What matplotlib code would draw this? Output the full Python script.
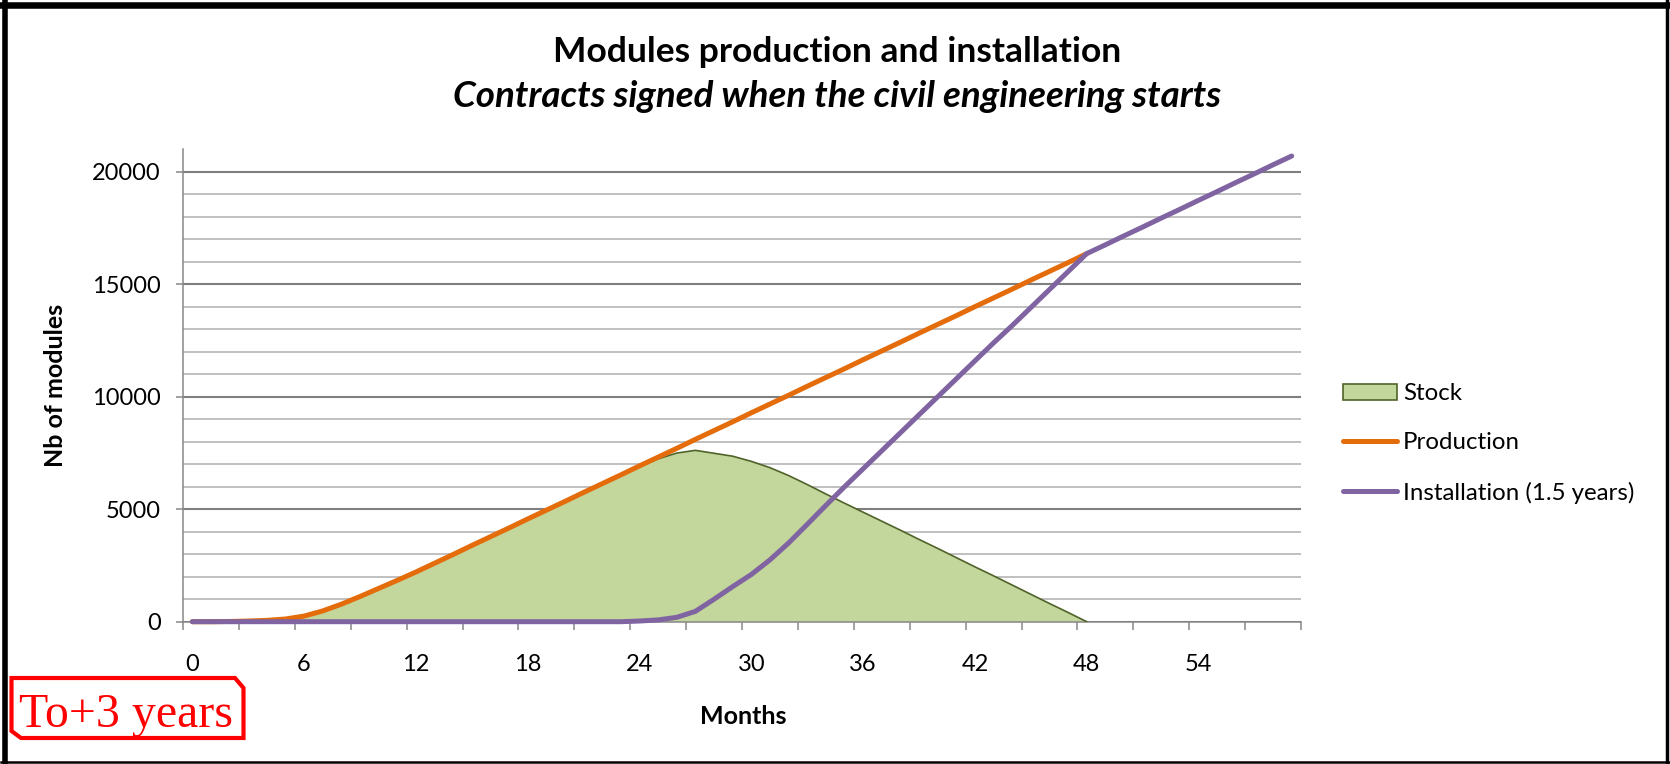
import numpy as np
import matplotlib
matplotlib.use("Agg")
import matplotlib.pyplot as plt
from matplotlib.lines import Line2D
from matplotlib.patches import Polygon, Patch

plt.rcParams['font.family'] = ['Lato', 'DejaVu Sans']

# data
months = list(range(60))
production = [0, 0, 10, 30, 60, 120, 250, 480, 780, 1120, 1480, 1840,
              2210, 2600, 2990, 3390, 3780, 4170, 4570, 4960, 5350, 5750,
              6140, 6530, 6930, 7320, 7710, 8110, 8500, 8890, 9290, 9680,
              10070, 10470, 10860, 11250, 11650, 12040, 12430, 12830, 13220,
              13610, 14010, 14400, 14790, 15190, 15580, 15970, 16370]
installation = [0] * 24 + [30, 80, 195, 460, 1000, 1560, 2100, 2750, 3500,
                           4330, 5170, 6000, 6800, 7600, 8400, 9200, 10000,
                           10800, 11600, 12400, 13170, 13970, 14770, 15570,
                           16370, 16760, 17160, 17550, 17950, 18340, 18740,
                           19130, 19530, 19920, 20320, 20710]
stock = [0, 0, 10, 30, 60, 120, 250, 480, 780, 1120, 1480, 1840,
         2210, 2600, 2990, 3390, 3780, 4170, 4570, 4960, 5350, 5750,
         6140, 6530, 6900, 7240, 7500, 7620, 7490, 7360, 7130, 6850,
         6500, 6100, 5680, 5270, 4870, 4470, 4070, 3660, 3260, 2850,
         2440, 2040, 1630, 1220, 810, 410, 0] + [0] * 11
xlabels = [0, 6, 12, 18, 24, 30, 36, 42, 48, 54]

W, H = 1670, 764
fig = plt.figure(figsize=(W / 100, H / 100), dpi=100)

def fx(px):
    return px / W

def fy(py):
    return 1 - py / H

ax = fig.add_axes([fx(183), fy(621.7), fx(1301) - fx(183), fy(149.5) - fy(621.7)])

c_fill = '#C3D69B'
c_edge = '#4F6228'
c_prod = '#E46C0A'
c_inst = '#8064A2'

m = np.array(months)
ax.fill_between(m, stock, 0, color=c_fill, lw=0, zorder=2, label='Stock')
ax.plot(m[:49], stock[:49], color=c_edge, lw=1.2, zorder=3)
ax.plot(m[:len(production)], production, color=c_prod, lw=3.6,
        solid_capstyle='round', zorder=4, clip_on=False, label='Production')
ax.plot(m, installation, color=c_inst, lw=3.6, solid_capstyle='round',
        zorder=5, clip_on=False, label='Installation (1.5 years)')

ax.set_xlim(-0.5, 59.5)
ax.set_ylim(0, 21000)

# y axis
ax.set_yticks(np.arange(0, 20001, 5000))
ax.set_yticks(np.arange(1000, 21001, 1000), minor=True)
ax.yaxis.grid(True, which='major', color='#7F7F7F', lw=1.5, zorder=0)
ax.yaxis.grid(True, which='minor', color='#BBBBBB', lw=1.3, zorder=0)
ax.tick_params(axis='y', which='major', length=5, width=1.1, color='#888888',
               labelsize=17, pad=11)
ax.tick_params(axis='y', which='minor', length=0)

# x axis: tick marks between categories, labels on categories
ax.set_xticks(np.arange(-0.5, 60, 3))
ax.set_xticklabels([])
ax.set_xticks(xlabels, minor=True)
ax.set_xticklabels([str(v) for v in xlabels], minor=True)
ax.tick_params(axis='x', which='major', length=6, width=1.1, color='#888888')
ax.tick_params(axis='x', which='minor', length=0, labelsize=17, pad=23)

for s in ['top', 'right']:
    ax.spines[s].set_visible(False)
for s in ['left', 'bottom']:
    ax.spines[s].set_color('#888888')
    ax.spines[s].set_linewidth(1.1)
ax.set_axisbelow(True)

# titles and axis labels
fig.text(fx(837), fy(62), 'Modules production and installation',
         ha='center', va='baseline', fontsize=25.5, fontweight='bold')
fig.text(fx(837), fy(107), 'Contracts signed when the civil engineering starts',
         ha='center', va='baseline', fontsize=26.5, fontweight='bold', style='italic')
fig.text(fx(56), fy(385), 'Nb of modules', rotation=90, ha='center', va='center',
         fontsize=18, fontweight='bold')
fig.text(fx(743), fy(717), 'Months', ha='center', va='center',
         fontsize=18, fontweight='bold')

# legend
handles = [Patch(facecolor=c_fill, edgecolor=c_edge, lw=1.2),
           Line2D([], [], color=c_prod, lw=3.6, solid_capstyle='round'),
           Line2D([], [], color=c_inst, lw=3.6, solid_capstyle='round')]
labels = ['Stock', 'Production', 'Installation (1.5 years)']
ax.legend(handles, labels, loc='center left', bbox_to_anchor=(fx(1343), fy(443.5)),
          bbox_transform=fig.transFigure, frameon=False, fontsize=17.3,
          borderpad=0, borderaxespad=0, handlelength=2.25, handletextpad=0.25,
          labelspacing=1.17)

# red "To+3 years" box
box = [(11.5, 678), (235, 678), (243.5, 688), (243.5, 738), (21, 738), (11.5, 731)]
fig.patches.append(Polygon([(fx(x), fy(y)) for x, y in box], closed=True,
                           fill=False, edgecolor='#FF0000', lw=3,
                           transform=fig.transFigure, figure=fig))
fig.text(fx(126), fy(727), 'To+3 years', ha='center', va='baseline',
         fontsize=34.5, color='#FF0000', family='Liberation Serif')

# black frame
frame = [((1, 1669), (4.5, 4.5), 4.7), ((4.5, 4.5), (1, 764), 4.0),
         ((1666.7, 1666.7), (1, 764), 2.5), ((1, 1669), (762.3, 762.3), 1.8)]
for xs, ys, lw in frame:
    fig.add_artist(Line2D([fx(v) for v in xs], [fy(v) for v in ys],
                          color='black', lw=lw, transform=fig.transFigure))

fig.savefig('out.png', dpi=100, facecolor='white')
